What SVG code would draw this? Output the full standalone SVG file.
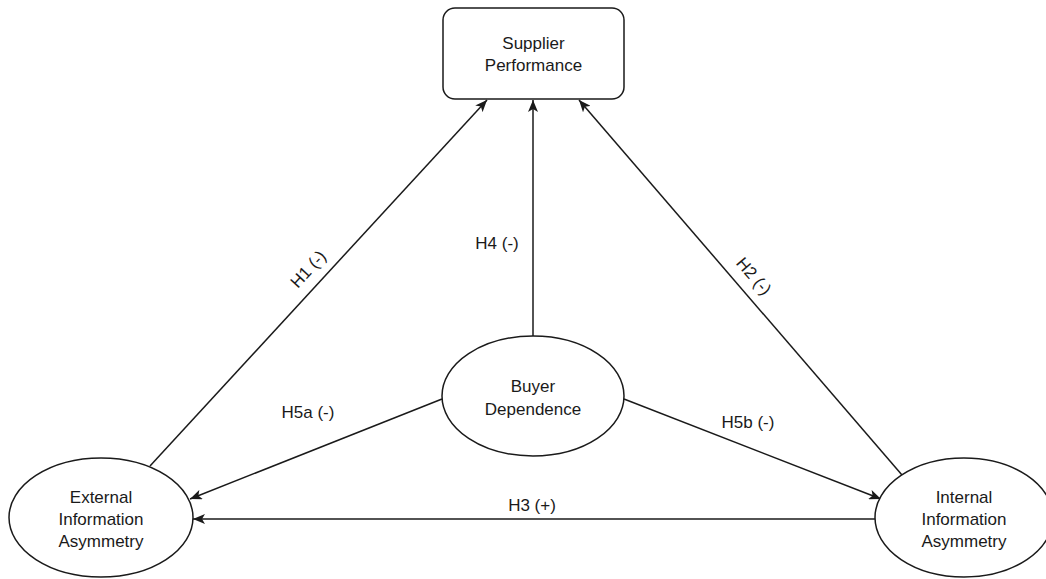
<svg xmlns="http://www.w3.org/2000/svg" width="1046" height="579" viewBox="0 0 1046 579">
  <style>
    .shape { fill: #ffffff; stroke: #1a1a1a; stroke-width: 1.5; }
    .label { font-family: "Liberation Sans", Arial, sans-serif; font-size: 17px; fill: #1a1a1a; text-anchor: middle; }
    .edge { fill: none; stroke: #1a1a1a; stroke-width: 1.5; marker-end: url(#arrow); }
  </style>
  <defs>
    <marker id="arrow" viewBox="0 0 12 10" refX="12" refY="5" markerWidth="12" markerHeight="10" markerUnits="userSpaceOnUse" orient="auto">
      <path d="M0,0 L12,5 L0,10 L3,5 Z" fill="#1a1a1a"/>
    </marker>
  </defs>
  <rect width="1046" height="579" fill="#ffffff"/>

  <!-- connectors -->
  <g id="connectors">
    <line class="edge" x1="150" y1="466" x2="487" y2="100"/>
    <line class="edge" x1="533" y1="336" x2="533" y2="100"/>
    <line class="edge" x1="902" y1="475" x2="579" y2="100"/>
    <line class="edge" x1="442" y1="399" x2="190" y2="499"/>
    <line class="edge" x1="624" y1="399" x2="881" y2="499"/>
    <line class="edge" x1="875" y1="519" x2="193" y2="519"/>
    <text class="label" x="0" y="6" transform="translate(308 269) rotate(-47.4)">H1 (-)</text>
    <text class="label" x="497" y="249">H4 (-)</text>
    <text class="label" x="0" y="6" transform="translate(754 276) rotate(49.3)">H2 (-)</text>
    <text class="label" x="308" y="418">H5a (-)</text>
    <text class="label" x="748" y="428">H5b (-)</text>
    <text class="label" x="532" y="511">H3 (+)</text>
  </g>

  <g id="supplier-performance">
    <rect class="shape" x="443" y="8" width="181" height="91" rx="12" ry="12"/>
    <text class="label" x="533.5" y="49">Supplier</text>
    <text class="label" x="533.5" y="71">Performance</text>
  </g>

  <g id="buyer-dependence">
    <ellipse class="shape" cx="533" cy="396" rx="91" ry="60"/>
    <text class="label" x="533" y="392">Buyer</text>
    <text class="label" x="533" y="415">Dependence</text>
  </g>

  <g id="external-information-asymmetry">
    <ellipse class="shape" cx="101" cy="517.5" rx="92" ry="59.5"/>
    <text class="label" x="101" y="503">External</text>
    <text class="label" x="101" y="525">Information</text>
    <text class="label" x="101" y="547">Asymmetry</text>
  </g>

  <g id="internal-information-asymmetry">
    <ellipse class="shape" cx="964" cy="517.5" rx="89" ry="59.5"/>
    <text class="label" x="964" y="503">Internal</text>
    <text class="label" x="964" y="525">Information</text>
    <text class="label" x="964" y="547">Asymmetry</text>
  </g>
</svg>
